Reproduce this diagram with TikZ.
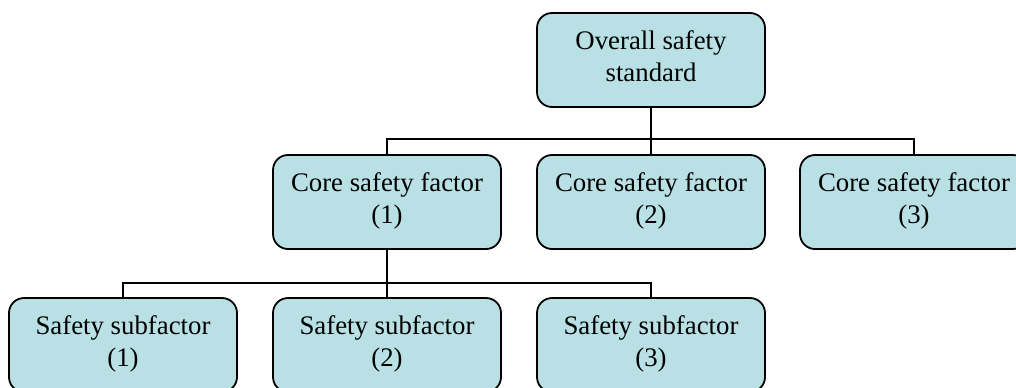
\documentclass[tikz,border=0pt]{standalone}
\usepackage{fontspec}
\setmainfont{Liberation Serif}
\usepackage{xcolor}
\definecolor{boxcyan}{RGB}{185,224,228}

\begin{document}
\begin{tikzpicture}[x=0.5pt, y=-0.5pt,
        every node/.style={font=\fontsize{13.4}{16.2}\selectfont},
        block/.style={draw=black, line width=0.9pt, fill=boxcyan,
        rounded corners=7.5pt, minimum width=114pt, minimum height=47pt,
        align=center, inner sep=2pt,
        execute at end node={\rule[-4pt]{0pt}{0pt}}},
        link/.style={draw=black, line width=1pt}]
        \useasboundingbox (0,0) rectangle (1016,387);
        \begin{scope}
        \clip (0,0) rectangle (1016,387);
        \node[block] (root) at (651,60) {Overall safety\\standard};
        \foreach \n/\x in {1/387,2/651,3/914}
        \node[block] (core\n) at (\x,202) {Core safety factor\\(\n)};
        \foreach \n/\x in {1/123,2/387,3/651}
        \node[block] (sub\n) at (\x,345) {Safety subfactor\\(\n)};
        \end{scope}
        % root to core factors
        \draw[link] (root.south) -- ++(0,31) coordinate (rootbus);
        \foreach \n in {1,2,3}
        \draw[link] (rootbus) -| (core\n.north);
        % core factor (1) to subfactors
        \draw[link] (core1.south) -- ++(0,33) coordinate (corebus);
        \foreach \n in {1,2,3}
        \draw[link] (corebus) -| (sub\n.north);
    \end{tikzpicture}
\end{document}
